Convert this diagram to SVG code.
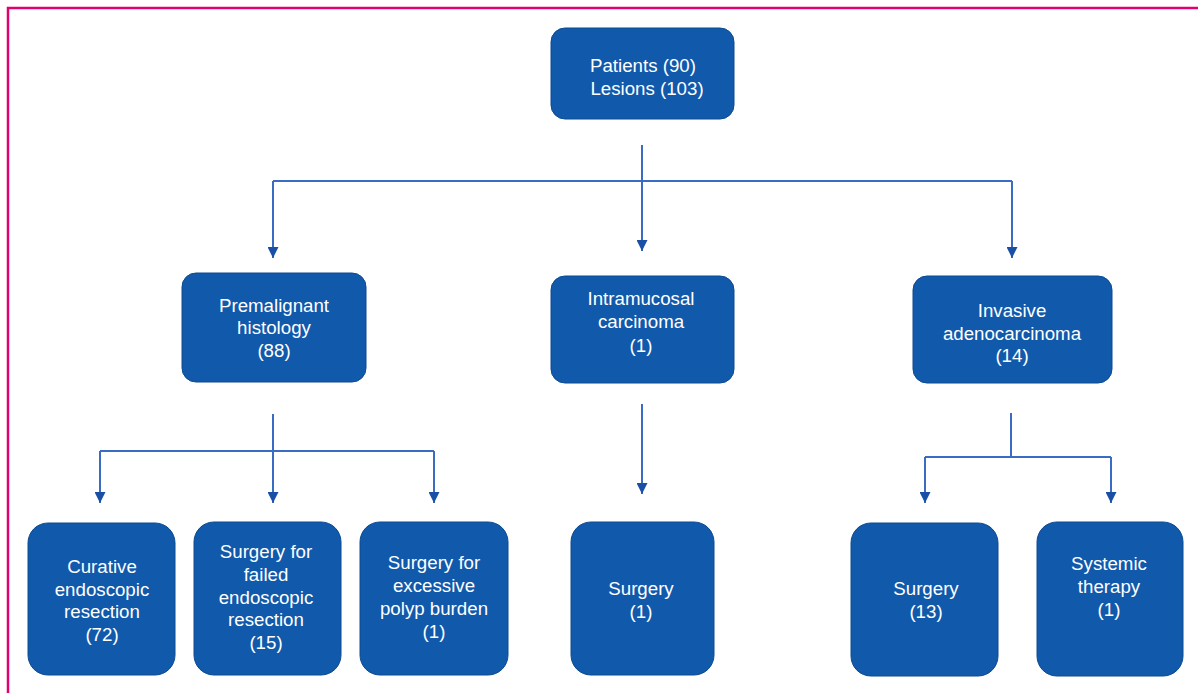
<svg xmlns="http://www.w3.org/2000/svg" width="1198" height="693" viewBox="0 0 1198 693">
<defs>
<marker id="ah" viewBox="0 0 10 10" refX="10" refY="5" markerWidth="11" markerHeight="11" markerUnits="userSpaceOnUse" orient="auto">
<path d="M0,0 L10,5 L0,10 Z" fill="#1a4fa6"/>
</marker>
</defs>
<style>
.box{fill:#1059ab;stroke:#0c4a90;stroke-width:1}
.t{fill:#ffffff;font-family:"Liberation Sans",Arial,sans-serif;font-size:18.7px;text-anchor:middle}
.c{fill:none;stroke:#3a6cc4;stroke-width:2}
.a{fill:none;stroke:#3a6cc4;stroke-width:2;marker-end:url(#ah)}
</style>
<rect width="1198" height="693" fill="#ffffff"/>
<path d="M8,693 L8,8 L1198,8" fill="none" stroke="#e0006f" stroke-width="2.5"/>

<g id="connectors">
<path class="a" d="M642,145 V251"/>
<path class="c" d="M273,181 H1012"/>
<path class="a" d="M273,181 V258"/>
<path class="a" d="M1012,181 V258"/>
<path class="c" d="M273,414 V451"/>
<path class="c" d="M100,451 H434"/>
<path class="a" d="M273,451 V503"/>
<path class="a" d="M100,451 V503"/>
<path class="a" d="M434,451 V503"/>
<path class="a" d="M642,404 V494"/>
<path class="c" d="M1011,413 V457"/>
<path class="c" d="M925,457 H1111"/>
<path class="a" d="M925,457 V503"/>
<path class="a" d="M1111,457 V503"/>
</g>

<g id="patients">
<rect class="box" x="551" y="28" width="183" height="91" rx="14"/>
<text class="t" x="643" y="72">Patients (90)</text>
<text class="t" x="647" y="95">Lesions (103)</text>
</g>

<g id="premalignant">
<rect class="box" x="182" y="273" width="184" height="109" rx="14"/>
<text class="t" x="274" y="312">Premalignant</text>
<text class="t" x="274" y="334">histology</text>
<text class="t" x="274" y="357">(88)</text>
</g>

<g id="intramucosal">
<rect class="box" x="551" y="276" width="183" height="107" rx="14"/>
<text class="t" x="641" y="305">Intramucosal</text>
<text class="t" x="641" y="328">carcinoma</text>
<text class="t" x="641" y="352">(1)</text>
</g>

<g id="invasive">
<rect class="box" x="913" y="276" width="199" height="107" rx="14"/>
<text class="t" x="1012" y="317">Invasive</text>
<text class="t" x="1012" y="340">adenocarcinoma</text>
<text class="t" x="1012" y="362">(14)</text>
</g>

<g id="curative">
<rect class="box" x="28" y="523" width="147" height="152" rx="20"/>
<text class="t" x="102" y="573">Curative</text>
<text class="t" x="102" y="596">endoscopic</text>
<text class="t" x="102" y="618">resection</text>
<text class="t" x="102" y="641">(72)</text>
</g>

<g id="failed">
<rect class="box" x="194" y="522" width="147" height="153" rx="20"/>
<text class="t" x="266" y="558">Surgery for</text>
<text class="t" x="266" y="581">failed</text>
<text class="t" x="266" y="604">endoscopic</text>
<text class="t" x="266" y="626">resection</text>
<text class="t" x="266" y="649">(15)</text>
</g>

<g id="excessive">
<rect class="box" x="360" y="522" width="148" height="153" rx="20"/>
<text class="t" x="434" y="569">Surgery for</text>
<text class="t" x="434" y="592">excessive</text>
<text class="t" x="434" y="615">polyp burden</text>
<text class="t" x="434" y="638">(1)</text>
</g>

<g id="surgery1">
<rect class="box" x="571" y="522" width="143" height="153" rx="20"/>
<text class="t" x="641" y="595">Surgery</text>
<text class="t" x="641" y="618">(1)</text>
</g>

<g id="surgery13">
<rect class="box" x="851" y="523" width="147" height="153" rx="20"/>
<text class="t" x="926" y="595">Surgery</text>
<text class="t" x="926" y="618">(13)</text>
</g>

<g id="systemic">
<rect class="box" x="1037" y="522" width="146" height="154" rx="20"/>
<text class="t" x="1109" y="570">Systemic</text>
<text class="t" x="1109" y="593">therapy</text>
<text class="t" x="1109" y="616">(1)</text>
</g>
</svg>
